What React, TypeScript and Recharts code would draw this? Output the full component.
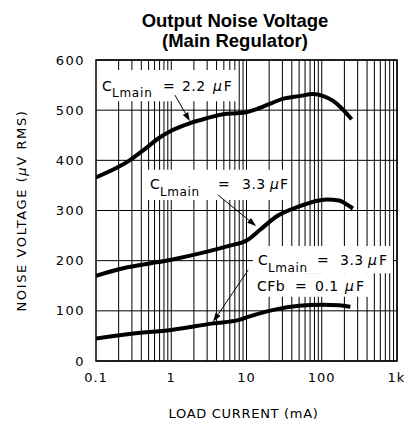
import React from "react";
import {
  LineChart,
  Line,
  XAxis,
  YAxis,
  CartesianGrid,
  ReferenceArea,
  ReferenceLine,
} from "recharts";

// load current (mA) / noise (uV rms)
const cl22X = [0.1, 0.2, 0.28, 0.45, 0.71, 1, 1.78, 3, 4.5, 7, 10, 13, 20, 31, 50, 77, 105, 140, 175, 250];
const cl22Y = [366, 387, 400, 423, 446, 459, 474, 484, 491, 494, 496, 501, 512, 523, 528, 532, 528, 519, 507, 482];

const cl33X = [0.1, 0.23, 0.5, 1, 3, 6, 10, 15, 25, 50, 80, 117, 170, 210, 260];
const cl33Y = [170, 185, 194, 202, 218, 230, 240, 261, 288, 308, 318, 322, 320, 313, 304];

const cfbX = [0.1, 0.28, 1, 3.6, 8, 10, 15, 23, 50, 100, 170, 240];
const cfbY = [45, 54, 62, 75, 82, 87, 95, 102, 110, 112, 111, 108];

const xTicks = [0.1, 1, 10, 100, 1000];
const xTickLabels = ["0.1", "1", "10", "100", "1k"];
const yTicks = [0, 100, 200, 300, 400, 500, 600];
const decades = [0.1, 1, 10, 100];
const steps = [2, 3, 4, 5, 6, 7, 8, 9, 10];
const gridX = decades.flatMap((d) => steps.map((s) => +(d * s).toPrecision(3)));

const toRows = (xs: number[], ys: number[]) => xs.map((x, i) => ({ x, y: ys[i] }));

const FONT = "'DejaVu Sans', sans-serif";

type Piece = { t: string; dx: number; dy: number; size: number; ls?: number };

const mu = (rest: string) => (
  <>
    <tspan fontStyle="italic">µ</tspan>
    {rest}
  </>
);

function boxLabel(pieces: Piece[]) {
  return (props: any) => {
    const vb = props.viewBox || {};
    return (
      <g>
        {pieces.map((p, i) => (
          <text
            key={i}
            x={vb.x + p.dx}
            y={vb.y + p.dy}
            fontSize={p.size}
            fontFamily={FONT}
            letterSpacing={p.ls ?? 0.5}
            fill="#000"
          >
            {p.t.startsWith("µ") ? mu(p.t.slice(1)) : p.t}
          </text>
        ))}
      </g>
    );
  };
}

function Arrow(props: any) {
  const { x1, y1, x2, y2 } = props;
  const ang = Math.atan2(y2 - y1, x2 - x1);
  const len = 9;
  const w = 3;
  const bx = x2 - len * Math.cos(ang);
  const by = y2 - len * Math.sin(ang);
  const px = -Math.sin(ang) * w;
  const py = Math.cos(ang) * w;
  return (
    <g>
      <line x1={x1} y1={y1} x2={bx} y2={by} stroke="#000" strokeWidth={1} />
      <polygon points={`${x2},${y2} ${bx + px},${by + py} ${bx - px},${by - py}`} fill="#000" />
    </g>
  );
}

export default function App() {
  return (
    <div style={{ position: "absolute", left: 0, top: 0, width: 404, height: 429, background: "#fff" }}>
      <div
        style={{
          position: "absolute",
          left: 0,
          top: 11,
          width: 470,
          textAlign: "center",
          fontFamily: "'Liberation Sans', Arial, sans-serif",
          fontWeight: "bold",
          fontSize: 18.5,
          lineHeight: "20px",
        }}
      >
        Output Noise Voltage
        <br />
        (Main Regulator)
      </div>
      <LineChart width={404} height={429} margin={{ top: 60, right: 7, bottom: 38, left: 36 }}>
        <CartesianGrid vertical={false} stroke="#000" strokeWidth={1} />
        <XAxis
          dataKey="x"
          type="number"
          scale="log"
          domain={[0.1, 1000]}
          ticks={xTicks}
          allowDataOverflow
          axisLine={false}
          tickLine={false}
          tickSize={0}
          tickMargin={12}
          height={30}
          tickFormatter={(v: number) => xTickLabels[xTicks.indexOf(v)] ?? String(v)}
          tick={{ fontSize: 13, fill: "#000", fontFamily: FONT, letterSpacing: 1 }}
          label={{
            content: (p: any) => (
              <text
                x={p.viewBox.x + p.viewBox.width / 2 - 3}
                y={418}
                textAnchor="middle"
                fontSize={13}
                fontFamily={FONT}
                letterSpacing={0.7}
                fill="#000"
              >
                LOAD CURRENT (mA)
              </text>
            ),
          }}
        />
        <YAxis
          type="number"
          domain={[0, 600]}
          ticks={yTicks}
          allowDataOverflow
          axisLine={false}
          tickLine={false}
          tickSize={0}
          tickMargin={11}
          width={60}
          tick={{ fontSize: 13, fill: "#000", fontFamily: FONT, letterSpacing: 1.5 }}
          label={{
            content: (p: any) => {
              const cx = 21;
              const cy = p.viewBox.y + p.viewBox.height / 2;
              return (
                <text
                  x={cx}
                  y={cy}
                  transform={`rotate(-90 ${cx} ${cy})`}
                  textAnchor="middle"
                  dominantBaseline="central"
                  fontSize={13}
                  fontFamily={FONT}
                  letterSpacing={1.6}
                  fill="#000"
                >
                  NOISE VOLTAGE (<tspan fontStyle="italic">µ</tspan>V RMS)
                </text>
              );
            },
          }}
        />

        {/* log grid */}
        {gridX.map((v) => (
          <ReferenceLine key={v} x={v} stroke="#000" strokeWidth={1} zIndex={100} />
        ))}

        {/* white label backgrounds */}
        <ReferenceArea
          x1={0.106}
          x2={7.7}
          y1={518}
          y2={580}
          fill="#fff"
          fillOpacity={1}
          stroke="none"
          zIndex={300}
          label={{
            content: boxLabel([
              { t: "C", dx: 4, dy: 21, size: 14 },
              { t: "Lmain", dx: 14, dy: 27, size: 12, ls: 0.8 },
              { t: "=", dx: 65, dy: 21, size: 14 },
              { t: "2.2", dx: 84, dy: 21, size: 14 },
              { t: "µF", dx: 115, dy: 21, size: 14, ls: 2 },
            ]),
          }}
        />
        <ReferenceArea
          x1={0.448}
          x2={32.6}
          y1={321}
          y2={381}
          fill="#fff"
          fillOpacity={1}
          stroke="none"
          zIndex={300}
          label={{
            content: boxLabel([
              { t: "C", dx: 5, dy: 19, size: 14 },
              { t: "Lmain", dx: 15, dy: 26, size: 12, ls: 0.6 },
              { t: "=", dx: 73, dy: 19, size: 14 },
              { t: "3.3", dx: 97, dy: 19, size: 14 },
              { t: "µF", dx: 125, dy: 19, size: 14, ls: 1 },
            ]),
          }}
        />
        <ReferenceArea
          x1={12.2}
          x2={885}
          y1={175}
          y2={229}
          fill="#fff"
          fillOpacity={1}
          stroke="none"
          zIndex={300}
          label={{
            content: boxLabel([
              { t: "C", dx: 5, dy: 19, size: 14 },
              { t: "Lmain", dx: 15, dy: 26, size: 12, ls: 0.6 },
              { t: "=", dx: 64, dy: 19, size: 14 },
              { t: "3.3", dx: 87, dy: 19, size: 14 },
              { t: "µF", dx: 115, dy: 19, size: 14, ls: 2 },
            ]),
          }}
        />
        <ReferenceArea
          x1={12.2}
          x2={438}
          y1={128}
          y2={175}
          fill="#fff"
          fillOpacity={1}
          stroke="none"
          zIndex={300}
          label={{
            content: boxLabel([
              { t: "CFb", dx: 4, dy: 18, size: 14, ls: 0.5 },
              { t: "=", dx: 42, dy: 18, size: 14 },
              { t: "0.1", dx: 62, dy: 18, size: 14 },
              { t: "µF", dx: 92, dy: 18, size: 14, ls: 2 },
            ]),
          }}
        />

        {/* plot frame */}
        <ReferenceArea x1={0.1} x2={1000} y1={0} y2={600} fill="none" stroke="#000" strokeWidth={1.5} zIndex={350} />

        <Line
          data={toRows(cl22X, cl22Y)}
          dataKey="y"
          type="monotone"
          stroke="#000"
          strokeWidth={4}
          dot={false}
          isAnimationActive={false}
          zIndex={400}
        />
        <Line
          data={toRows(cl33X, cl33Y)}
          dataKey="y"
          type="monotone"
          stroke="#000"
          strokeWidth={4}
          dot={false}
          isAnimationActive={false}
          zIndex={400}
        />
        <Line
          data={toRows(cfbX, cfbY)}
          dataKey="y"
          type="monotone"
          stroke="#000"
          strokeWidth={4}
          dot={false}
          isAnimationActive={false}
          zIndex={400}
        />

        {/* arrows from labels to curves */}
        <ReferenceLine segment={[{ x: 1.12, y: 530 }, { x: 1.77, y: 478 }]} shape={Arrow} zIndex={500} />
        <ReferenceLine segment={[{ x: 4.18, y: 331 }, { x: 13.4, y: 269 }]} shape={Arrow} zIndex={500} />
        <ReferenceLine segment={[{ x: 10.5, y: 181 }, { x: 3.59, y: 78 }]} shape={Arrow} zIndex={500} />
      </LineChart>
    </div>
  );
}
